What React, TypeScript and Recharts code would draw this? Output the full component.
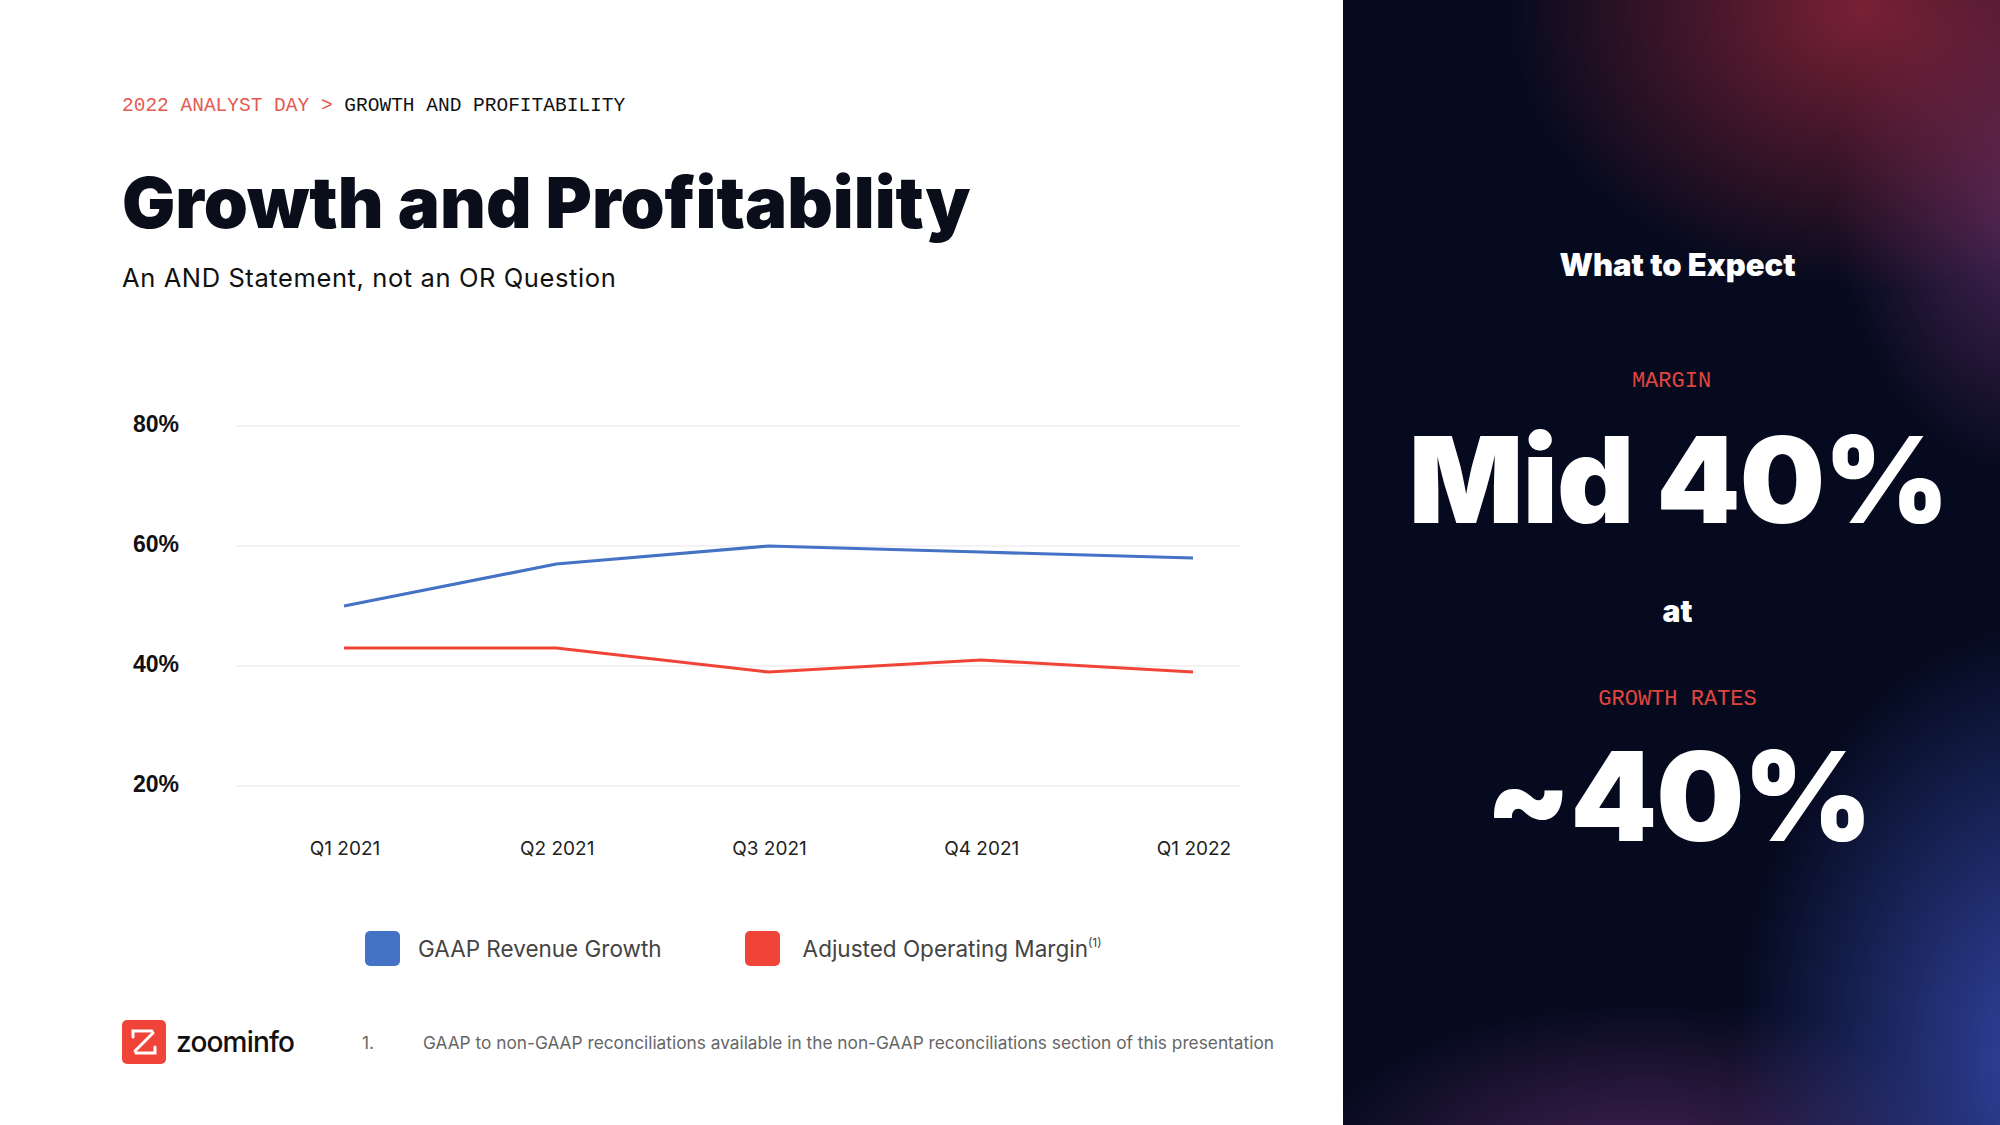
import React from "react";
import { LineChart, Line, XAxis, YAxis, CartesianGrid } from "recharts";

const categories = ["Q1 2021", "Q2 2021", "Q3 2021", "Q4 2021", "Q1 2022"];
const gaapRevenueGrowth = [50, 57, 60, 59, 58];
const adjustedOperatingMargin = [43, 43, 39, 41, 39];
const yTicks = [20, 40, 60, 80];

const BLUE = "#4472C4";
const RED = "#F04438";

const data = categories.map((c, i) => ({
  name: c,
  gaap: gaapRevenueGrowth[i],
  margin: adjustedOperatingMargin[i],
}));

const SANS = "Inter, 'Open Sans', 'Noto Sans', sans-serif";
const MONO = "'Liberation Mono', 'DejaVu Sans Mono', monospace";

const YTick = (props: any) => {
  const { y, payload } = props;
  return (
    <text x={133} y={y + 6} fontFamily="'Liberation Sans', Arial, sans-serif" fontWeight={700} fontSize={23} fill="#111">
      {payload.value}%
    </text>
  );
};

const XTick = (props: any) => {
  const { x, payload } = props;
  return (
    <text x={x + 1} y={855} textAnchor="middle" fontFamily={SANS} fontSize={19} fill="#222">
      {payload.value}
    </text>
  );
};

const Logo = () => (
  <svg width={44} height={44} viewBox="0 0 44 44">
    <rect x={0} y={0} width={44} height={44} rx={5} fill="#F04438" />
    <g stroke="#fff" strokeWidth={3} fill="none" strokeLinecap="round">
      <polyline points="11,17 11,11 30,11" />
      <line x1={31} y1={13} x2={13} y2={31} />
      <polyline points="14,33 33,33 33,27" />
    </g>
  </svg>
);

export default function App() {
  return (
    <div style={{ position: "absolute", left: 0, top: 0, width: 2000, height: 1125, background: "#fff", overflow: "hidden" }}>
      {/* breadcrumb */}
      <div style={{ position: "absolute", left: 122, top: 94, fontFamily: MONO, fontSize: 19.5, whiteSpace: "pre", lineHeight: "24px" }}>
        <span style={{ color: "#E35A52" }}>2022 ANALYST DAY &gt; </span>
        <span style={{ color: "#111" }}>GROWTH AND PROFITABILITY</span>
      </div>
      {/* title */}
      <div style={{ position: "absolute", left: 122, top: 163, fontFamily: SANS, fontWeight: 900, fontSize: 70.7, color: "#0a0d1a", lineHeight: "80px", whiteSpace: "nowrap", letterSpacing: 0 }}>
        Growth and Profitability
      </div>
      <div style={{ position: "absolute", left: 122, top: 263, fontFamily: SANS, fontSize: 25.5, color: "#111", lineHeight: "30px", whiteSpace: "nowrap", letterSpacing: 0.6 }}>
        An AND Statement, not an OR Question
      </div>

      {/* chart */}
      <div style={{ position: "absolute", left: 0, top: 0 }}>
        <LineChart width={1260} height={880} data={data} margin={{ top: 426, right: 20, left: 0, bottom: 0 }}>
          <CartesianGrid horizontal={true} vertical={false} stroke="#e8e8e8" strokeWidth={1.2} />
          <XAxis
            dataKey="name"
            axisLine={false}
            tickLine={false}
            height={94}
            padding={{ left: 107, right: 47 }}
            tick={<XTick />}
            interval={0}
          />
          <YAxis
            domain={[20, 80]}
            ticks={yTicks}
            axisLine={false}
            tickLine={false}
            width={237}
            tick={<YTick />}
          />
          <Line type="linear" dataKey="gaap" stroke={BLUE} strokeWidth={3.2} dot={false} isAnimationActive={false} />
          <Line type="linear" dataKey="margin" stroke={RED} strokeWidth={3.2} dot={false} isAnimationActive={false} />
        </LineChart>
      </div>

      {/* legend */}
      <div style={{ position: "absolute", left: 365, top: 931, display: "flex", alignItems: "center", fontFamily: SANS, fontSize: 22.5, color: "#444", whiteSpace: "nowrap" }}>
        <div style={{ width: 35, height: 35, borderRadius: 5, background: BLUE }} />
        <div style={{ marginLeft: 18 }}>GAAP Revenue Growth</div>
        <div style={{ width: 35, height: 35, borderRadius: 5, background: RED, marginLeft: 83 }} />
        <div style={{ marginLeft: 23 }}>
          Adjusted Operating Margin<sup style={{ fontSize: 12, position: "relative", top: -2 }}>(1)</sup>
        </div>
      </div>

      {/* logo */}
      <div style={{ position: "absolute", left: 122, top: 1020, display: "flex", alignItems: "center" }}>
        <Logo />
        <div style={{ marginLeft: 10, fontFamily: SANS, fontWeight: 500, fontSize: 28, color: "#111", letterSpacing: -0.8, lineHeight: "44px" }}>zoominfo</div>
      </div>

      {/* footnote */}
      <div style={{ position: "absolute", left: 362, top: 1032, fontFamily: SANS, fontSize: 17.3, color: "#666", whiteSpace: "nowrap", lineHeight: "22px" }}>1.</div>
      <div style={{ position: "absolute", left: 423, top: 1032, fontFamily: SANS, fontSize: 17.3, color: "#666", whiteSpace: "nowrap", lineHeight: "22px" }}>
        GAAP to non-GAAP reconciliations available in the non-GAAP reconciliations section of this presentation
      </div>

      {/* right panel */}
      <div
        style={{
          position: "absolute",
          left: 1343,
          top: 0,
          width: 657,
          height: 1125,
          background:
            "radial-gradient(ellipse 360px 280px at 520px 10px, rgba(160,40,60,0.75), rgba(160,40,60,0) 100%)," +
            "radial-gradient(ellipse 200px 280px at 690px 200px, rgba(130,60,130,0.6), rgba(130,60,130,0) 100%)," +
            "radial-gradient(ellipse 320px 440px at 710px 1060px, rgba(60,80,190,0.85), rgba(60,80,190,0) 100%)," +
            "radial-gradient(ellipse 340px 170px at 300px 1170px, rgba(110,50,120,0.6), rgba(110,50,120,0) 100%)," +
            "#050a1e",
        }}
      >
        <div style={{ position: "absolute", left: 0, width: 657, top: 246, textAlign: "center", fontFamily: SANS, fontWeight: 900, fontSize: 31, color: "#fff", lineHeight: "38px", paddingLeft: 12, boxSizing: "border-box" }}>
          What to Expect
        </div>
        <div style={{ position: "absolute", left: 0, width: 657, top: 369, textAlign: "center", fontFamily: MONO, fontSize: 22, color: "#E0463E", lineHeight: "26px" }}>
          MARGIN
        </div>
        <div style={{ position: "absolute", left: 0, width: 657, top: 412, textAlign: "center", fontFamily: SANS, fontWeight: 900, fontSize: 120, color: "#fff", lineHeight: "136px", whiteSpace: "nowrap", letterSpacing: -1, paddingLeft: 14, boxSizing: "border-box" }}>
          Mid 40%
        </div>
        <div style={{ position: "absolute", left: 0, width: 657, top: 592, textAlign: "center", fontFamily: SANS, fontWeight: 900, fontSize: 30, color: "#fff", lineHeight: "38px", paddingLeft: 12, boxSizing: "border-box" }}>
          at
        </div>
        <div style={{ position: "absolute", left: 0, width: 657, top: 687, textAlign: "center", fontFamily: MONO, fontSize: 22, color: "#E0463E", lineHeight: "26px", paddingLeft: 12, boxSizing: "border-box" }}>
          GROWTH RATES
        </div>
        <div style={{ position: "absolute", left: 0, width: 657, top: 726, textAlign: "center", fontFamily: SANS, fontWeight: 900, fontSize: 124, color: "#fff", lineHeight: "140px", whiteSpace: "nowrap", letterSpacing: -1, paddingLeft: 14, boxSizing: "border-box" }}>
          ~40%
        </div>
      </div>
    </div>
  );
}
